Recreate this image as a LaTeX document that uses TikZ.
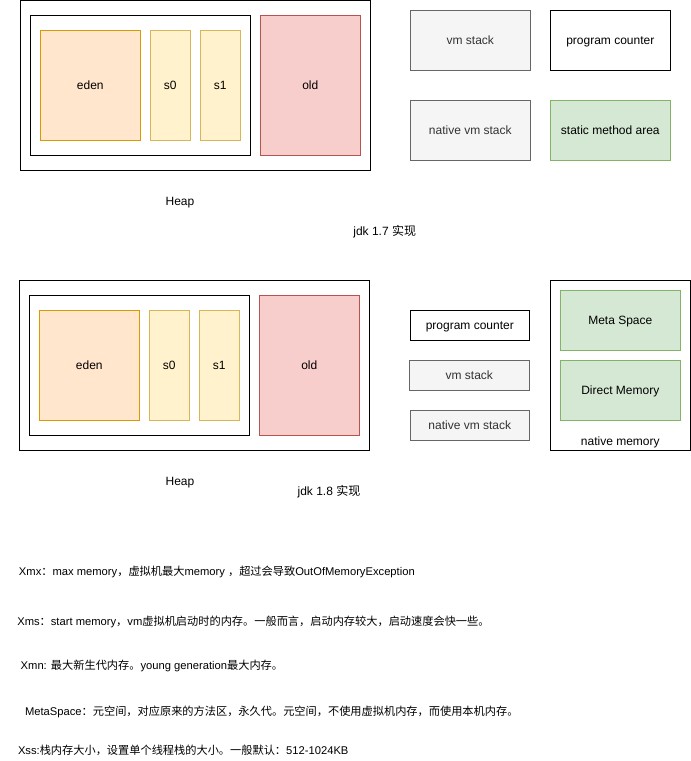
\documentclass[tikz,border=0pt]{standalone}
\usepackage{fontspec}
\setmainfont{Liberation Sans}
\newfontfamily\cjk{Noto Sans CJK SC}
\definecolor{edenfill}{HTML}{FFE6CC}
\definecolor{edenline}{HTML}{D79B00}
\definecolor{survfill}{HTML}{FFF2CC}
\definecolor{survline}{HTML}{D6B656}
\definecolor{oldfill}{HTML}{F8CECC}
\definecolor{oldline}{HTML}{B85450}
\definecolor{grayfill}{HTML}{F5F5F5}
\definecolor{grayline}{HTML}{666666}
\definecolor{graytext}{HTML}{333333}
\definecolor{greenfill}{HTML}{D5E8D4}
\definecolor{greenline}{HTML}{82B366}
\begin{document}
\begin{tikzpicture}[x=1pt,y=-1pt,
  every node/.style={font=\fontsize{12}{14}\selectfont, inner sep=0pt, outer sep=0pt,
    text height=9pt, text depth=0pt},
  plainbox/.style={draw=black, fill=white, line width=1pt, rectangle},
  edenbox/.style={draw=edenline, fill=edenfill, line width=1pt, rectangle},
  survbox/.style={draw=survline, fill=survfill, line width=1pt, rectangle},
  oldbox/.style={draw=oldline, fill=oldfill, line width=1pt, rectangle},
  graybox/.style={draw=grayline, fill=grayfill, text=graytext, line width=1pt, rectangle},
  greenbox/.style={draw=greenline, fill=greenfill, line width=1pt, rectangle},
  note/.style={anchor=west, font=\fontsize{11.2}{13}\selectfont},
  sz/.style 2 args={minimum width=#1, minimum height=#2}
]
\useasboundingbox (0,0) rectangle (691,761);

% ---------- jdk 1.7 layout ----------
\node[plainbox, sz={350pt}{170pt}] (heapA) at (195,85.3) {};
\node[plainbox, sz={220pt}{140pt}] (youngA) at (140.3,85.3) {};
\node[edenbox, sz={100pt}{110pt}] (edenA) at (90.3,85.3) {eden};
\node[survbox, sz={40pt}{110pt}] (szeroA) at (170.3,85.3) {s0};
\node[survbox, sz={40pt}{110pt}] (soneA) at (220.3,85.3) {s1};
\node[oldbox, sz={100pt}{140pt}] (oldA) at (310.3,85.3) {old};
\node (heaplabelA) at (180,200.5) {Heap};

\node[graybox, sz={120pt}{60pt}] (vmA) at (470.3,40.3) {vm stack};
\node[plainbox, sz={120pt}{60pt}] (pcA) at (610.3,40.3) {program counter};
\node[graybox, sz={120pt}{60pt}] (nativeA) at (470.3,130.3) {native vm stack};
\node[greenbox, sz={120pt}{60pt}] (methodA) at (610.3,130.3) {static method area};
\node (jdkA) at (384.7,230.8) {jdk 1.7 {\cjk 实现}};

% ---------- jdk 1.8 layout ----------
\node[plainbox, sz={350pt}{170pt}] (heapB) at (194.3,365.3) {};
\node[plainbox, sz={220pt}{140pt}] (youngB) at (139.3,365.3) {};
\node[edenbox, sz={100pt}{110pt}] (edenB) at (89.3,365.3) {eden};
\node[survbox, sz={40pt}{110pt}] (szeroB) at (169.3,365.3) {s0};
\node[survbox, sz={40pt}{110pt}] (soneB) at (219.3,365.3) {s1};
\node[oldbox, sz={100pt}{140pt}] (oldB) at (309.3,365.3) {old};
\node (heaplabelB) at (180,480.5) {Heap};

\node[plainbox, sz={119pt}{30pt}] (pcB) at (469.8,325.3) {program counter};
\node[graybox, sz={120pt}{30pt}] (vmB) at (469.3,375.3) {vm stack};
\node[graybox, sz={119pt}{30pt}] (nativeB) at (469.8,425.3) {native vm stack};

\node[plainbox, sz={140pt}{170pt}] (nativemem) at (620.3,365.3) {};
\node[greenbox, sz={120pt}{60pt}] (meta) at (620.3,320.3) {Meta Space};
\node[greenbox, sz={120pt}{60pt}] (direct) at (620.3,390.3) {Direct Memory};
\node (nativememlabel) at (620.3,440.5) {native memory};
\node (jdkB) at (329,490.5) {jdk 1.8 {\cjk 实现}};

% ---------- notes on the JVM options ----------
\node[note] (xmx) at (19,570.5) {Xmx{\cjk ：}max memory{\cjk ，虚拟机最大}memory {\cjk ，超过会导致}OutOfMemoryException};
\node[note] (xms) at (17.3,620.5) {Xms{\cjk ：}start memory{\cjk ，}vm{\cjk 虚拟机启动时的内存。一般而言，启动内存较大，启动速度会快一些。}};
\node[note] (xmn) at (20.7,664.5) {Xmn: {\cjk 最大新生代内存。}young generation{\cjk 最大内存。}};
\node[note] (metanote) at (25,710.5) {MetaSpace{\cjk ：元空间，对应原来的方法区，永久代。元空间，不使用虚拟机内存，而使用本机内存。}};
\node[note] (xss) at (18,749.5) {Xss:{\cjk 栈内存大小，设置单个线程栈的大小。一般默认：}512-1024KB};
\end{tikzpicture}
\end{document}
